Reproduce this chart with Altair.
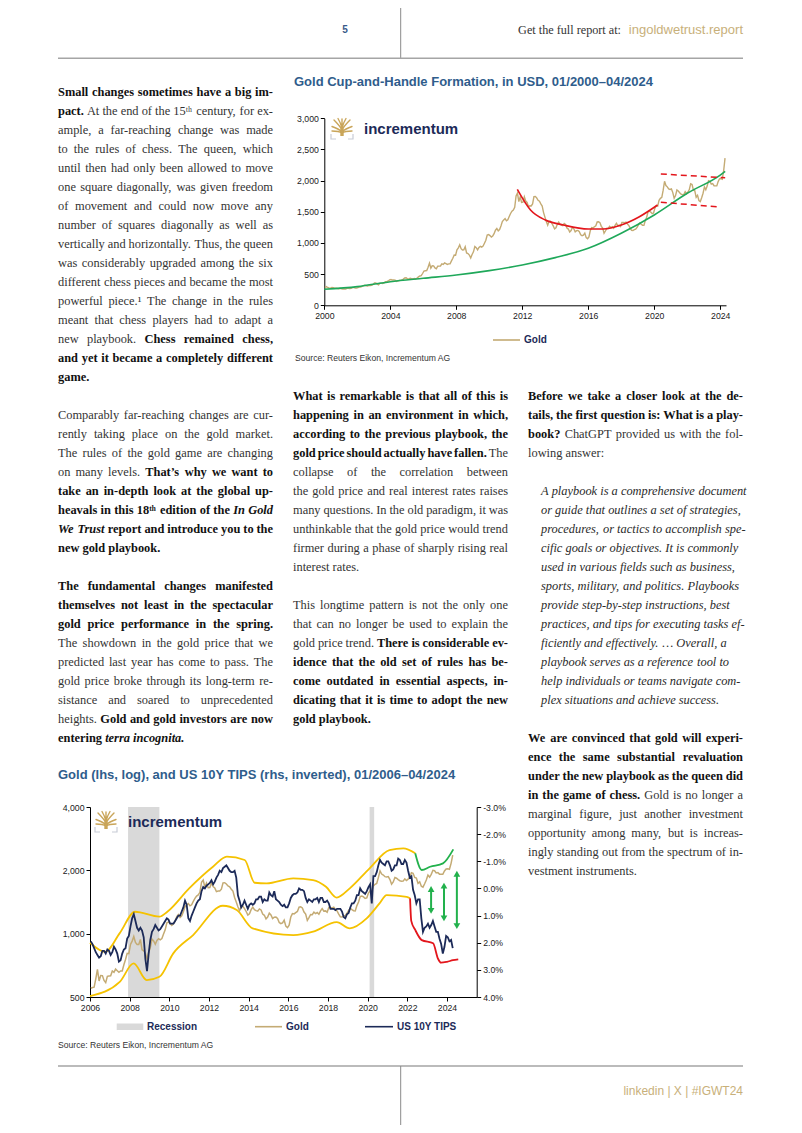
import base64
import altair as alt
import pandas as pd

W, H = 786, 1117


def PX(x):
    return x - 8


def PY(y):
    return y - 8


# ------------------------------------------------------------------ data
GOLD_MONTHLY = [
    284, 300, 286, 280, 275, 286, 282, 274, 273, 270, 266, 272,
    266, 262, 263, 261, 272, 271, 268, 273, 283, 283, 276, 276,
    282, 296, 294, 302, 314, 321, 314, 310, 319, 317, 319, 333,
    357, 359, 340, 328, 355, 356, 351, 360, 379, 379, 390, 407,
    414, 405, 406, 404, 384, 392, 398, 400, 406, 420, 439, 442,
    424, 423, 434, 429, 422, 430, 424, 438, 456, 470, 476, 510,
    550, 555, 557, 610, 676, 596, 633, 632, 599, 585, 627, 629,
    631, 665, 655, 679, 667, 655, 665, 665, 712, 754, 806, 803,
    889, 922, 970, 909, 888, 889, 939, 839, 829, 806, 760, 816,
    858, 943, 924, 890, 928, 946, 934, 949, 996, 1043, 1127, 1135,
    1118, 1095, 1113, 1148, 1205, 1232, 1193, 1215, 1271, 1343, 1370, 1391,
    1356, 1372, 1424, 1473, 1510, 1529, 1572, 1756, 1800, 1665, 1739, 1652,
    1656, 1742, 1674, 1650, 1585, 1596, 1594, 1626, 1744, 1747, 1722, 1685,
    1671, 1627, 1593, 1487, 1414, 1343, 1286, 1347, 1349, 1316, 1275, 1225,
    1244, 1300, 1336, 1299, 1287, 1279, 1311, 1296, 1239, 1223, 1176, 1200,
    1251, 1227, 1179, 1198, 1199, 1182, 1131, 1117, 1125, 1159, 1086, 1068,
    1097, 1200, 1246, 1242, 1260, 1276, 1337, 1341, 1326, 1267, 1238, 1157,
    1192, 1234, 1231, 1266, 1246, 1260, 1236, 1283, 1315, 1280, 1283, 1265,
    1331, 1331, 1325, 1335, 1303, 1282, 1238, 1202, 1199, 1215, 1221, 1250,
    1291, 1320, 1300, 1285, 1283, 1359, 1413, 1500, 1510, 1495, 1470, 1480,
    1560, 1597, 1592, 1683, 1716, 1732, 1847, 1990, 1921, 1900, 1866, 1858,
    1867, 1808, 1718, 1760, 1850, 1834, 1807, 1785, 1776, 1777, 1822, 1790,
    1817, 1856, 1948, 1937, 1849, 1837, 1733, 1764, 1681, 1664, 1726, 1798,
    1898, 1855, 1913, 2000, 1991, 1943, 1951, 1918, 1916, 1916, 1985, 2030,
    2034, 2023, 2159, 2360,
]
GOLD_START = 2000

TIPS_MONTHLY = [
    1.95, 2.05, 2.20, 2.35, 2.45, 2.55, 2.50, 2.30, 2.30, 2.40, 2.25, 2.30,
    2.45, 2.35, 2.15, 2.25, 2.40, 2.70, 2.65, 2.40, 2.25, 2.20, 1.85, 1.75,
    1.40, 1.10, 0.95, 1.20, 1.45, 1.55, 1.45, 1.55, 1.80, 2.60, 3.05, 2.40,
    1.90, 1.60, 1.50, 1.35, 1.45, 1.55, 1.50, 1.40, 1.30, 1.20, 1.10, 1.15,
    1.30, 1.30, 1.30, 1.20, 1.10, 1.00, 1.00, 0.85, 0.70, 0.45, 0.60, 1.10,
    1.20, 1.00, 0.85, 0.70, 0.55, 0.45, 0.40, 0.10, -0.05, 0.00, -0.10, -0.15,
    -0.20, -0.30, -0.15, -0.25, -0.40, -0.50, -0.65, -0.60, -0.75, -0.80, -0.85, -0.75,
    -0.65, -0.60, -0.60, -0.65, -0.40, 0.25, 0.45, 0.70, 0.60, 0.45, 0.60, 0.75,
    0.60, 0.55, 0.60, 0.55, 0.40, 0.40, 0.30, 0.30, 0.50, 0.40, 0.45, 0.45,
    0.15, 0.25, 0.30, 0.10, 0.40, 0.45, 0.50, 0.60, 0.65, 0.60, 0.70, 0.70,
    0.55, 0.35, 0.25, 0.20, 0.20, 0.15, 0.00, 0.05, 0.05, 0.10, 0.35, 0.50,
    0.40, 0.45, 0.50, 0.40, 0.40, 0.35, 0.50, 0.35, 0.35, 0.50, 0.50, 0.45,
    0.55, 0.75, 0.75, 0.75, 0.80, 0.75, 0.75, 0.75, 0.85, 1.05, 1.10, 0.95,
    0.90, 0.70, 0.55, 0.55, 0.45, 0.25, 0.25, 0.00, 0.10, 0.15, 0.20, 0.10,
    -0.05, -0.15, 0.55, -0.45, -0.45, -0.60, -0.85, -1.05, -0.95, -0.90, -0.85, -1.00,
    -1.00, -0.85, -0.65, -0.70, -0.85, -0.85, -1.10, -1.05, -0.90, -0.90, -1.05, -0.95,
    -0.65, -0.40, -0.45, 0.05, 0.25, 0.55, 0.40, 0.40, 1.10, 1.60, 1.45, 1.40,
    1.30, 1.45, 1.35, 1.20, 1.40, 1.60, 1.60, 1.85, 2.05, 2.40, 2.15, 1.75,
    1.80, 1.95, 1.90, 2.20,
]
TIPS_START = 2006

# chart 1 overlays
TREND_YEARS = [2000, 2002, 2004, 2006, 2008, 2010, 2012, 2014, 2016, 2018, 2020, 2022, 2024, 2024.3]
TREND_VALUES = [257, 300, 378, 433, 486, 556, 647, 765, 914, 1155, 1449, 1797, 2090, 2150]
CUP_YEARS = [2011.7, 2012.5, 2013.4, 2014.5, 2016.0, 2016.9, 2018.0, 2019.1, 2020.2]
CUP_VALUES = [1860, 1529, 1368, 1288, 1224, 1224, 1288, 1421, 1609]
HANDLE_ID = ["upper", "upper", "lower", "lower"]
HANDLE_YEARS = [2020.4, 2024.3, 2020.4, 2024.0]
HANDLE_VALUES = [2106, 2047, 1652, 1577]

# chart 2 overlays
BAND_UP_YEARS = [2006.0, 2006.76, 2007.5, 2008.27, 2009.5, 2009.9, 2011.0, 2012.2, 2012.9, 2013.8,
                 2014.3, 2014.9, 2016.25, 2017.25, 2017.9, 2018.44, 2019.1, 2020.1, 2021.1, 2021.8, 2022.4]
BAND_UP_VALUES = [905, 820, 1006, 1271, 1204, 1271, 1642, 2080, 2322, 2240,
                  1746, 1734, 1832, 1798, 1670, 1485, 1642, 2044, 2498, 2544, 2410]
GREEN_UP_YEARS = [2022.4, 2022.73, 2023.15, 2023.8, 2024.32]
GREEN_UP_VALUES = [2410, 2007, 2080, 2159, 2516]
BAND_LO_YEARS = [2006.0, 2007.5, 2008.2, 2008.86, 2009.5, 2010.2, 2011.2, 2012.7, 2013.4, 2014.2,
                 2016.25, 2017.25, 2018.44, 2019.1, 2019.95, 2020.6, 2020.96, 2021.97, 2022.14]
BAND_LO_VALUES = [505, 590, 722, 602, 624, 806, 985, 1357, 1295, 1060,
                  985, 1022, 1135, 1060, 1182, 1393, 1526, 1497, 1472]
RED_LO_YEARS = [2022.14, 2022.2, 2022.4, 2022.73, 2023.3, 2023.55, 2023.7, 2024.0, 2024.3, 2024.57]
RED_LO_VALUES = [1472, 1150, 1042, 932, 900, 760, 728, 735, 748, 755]
ARROW_YEARS = [2023.2, 2023.85, 2024.5]
ARROW_TOP = [0.02, -0.10, -0.54]
ARROW_BOTTOM = [0.83, 1.10, 1.39]
RECESSION_START = [2007.92, 2020.1]
RECESSION_END = [2009.5, 2020.33]

# axis ticks
C1_X_TICKS = [2000, 2004, 2008, 2012, 2016, 2020, 2024]
C1_Y_TICKS = [0, 500, 1000, 1500, 2000, 2500, 3000]
C2_X_TICKS = [2006, 2008, 2010, 2012, 2014, 2016, 2018, 2020, 2022, 2024]
C2_GOLD_TICKS = [500, 1000, 2000, 4000]
C2_TIPS_TICKS = [-3, -2, -1, 0, 1, 2, 3, 4]

# text
LEFT_P1 = [
    [("b", "Small changes sometimes have a big im-")],
    [("b", "pact."), ("r", "At the end of the 15ᵗʰ century, for ex-")],
    [("r", "ample, a far-reaching change was made")],
    [("r", "to the rules of chess. The queen, which")],
    [("r", "until then had only been allowed to move")],
    [("r", "one square diagonally, was given freedom")],
    [("r", "of movement and could now move any")],
    [("r", "number of squares diagonally as well as")],
    [("r", "vertically and horizontally. Thus, the queen")],
    [("r", "was considerably upgraded among the six")],
    [("r", "different chess pieces and became the most")],
    [("r", "powerful piece.¹ The change in the rules")],
    [("r", "meant that chess players had to adapt a")],
    [("r", "new playbook."), ("b", "Chess remained chess,")],
    [("b", "and yet it became a completely different")],
    [("b", "game.")],
]
LEFT_P2 = [
    [("r", "Comparably far-reaching changes are cur-")],
    [("r", "rently taking place on the gold market.")],
    [("r", "The rules of the gold game are changing")],
    [("r", "on many levels."), ("b", "That’s why we want to")],
    [("b", "take an in-depth look at the global up-")],
    [("b", "heavals in this 18ᵗʰ edition of the"), ("bi", "In Gold")],
    [("bi", "We Trust"), ("b", "report and introduce you to the")],
    [("b", "new gold playbook.")],
]
LEFT_P3 = [
    [("b", "The fundamental changes manifested")],
    [("b", "themselves not least in the spectacular")],
    [("b", "gold price performance in the spring.")],
    [("r", "The showdown in the gold price that we")],
    [("r", "predicted last year has come to pass. The")],
    [("r", "gold price broke through its long-term re-")],
    [("r", "sistance and soared to unprecedented")],
    [("r", "heights."), ("b", "Gold and gold investors are now")],
    [("b", "entering"), ("bi", "terra incognita.")],
]
MID_P1 = [
    [("b", "What is remarkable is that all of this is")],
    [("b", "happening in an environment in which,")],
    [("b", "according to the previous playbook, the")],
    [("b", "gold price should actually have fallen."), ("r", "The")],
    [("r", "collapse of the correlation between")],
    [("r", "the gold price and real interest rates raises")],
    [("r", "many questions. In the old paradigm, it was")],
    [("r", "unthinkable that the gold price would trend")],
    [("r", "firmer during a phase of sharply rising real")],
    [("r", "interest rates.")],
]
MID_P2 = [
    [("r", "This longtime pattern is not the only one")],
    [("r", "that can no longer be used to explain the")],
    [("r", "gold price trend."), ("b", "There is considerable ev-")],
    [("b", "idence that the old set of rules has be-")],
    [("b", "come outdated in essential aspects, in-")],
    [("b", "dicating that it is time to adopt the new")],
    [("b", "gold playbook.")],
]
RIGHT_P1 = [
    [("b", "Before we take a closer look at the de-")],
    [("b", "tails, the first question is: What is a play-")],
    [("b", "book?"), ("r", "ChatGPT provided us with the fol-")],
    [("r", "lowing answer:")],
]
QUOTE = [
    "A playbook is a comprehensive document",
    "or guide that outlines a set of strategies,",
    "procedures, or tactics to accomplish spe-",
    "cific goals or objectives. It is commonly",
    "used in various fields such as business,",
    "sports, military, and politics. Playbooks",
    "provide step-by-step instructions, best",
    "practices, and tips for executing tasks ef-",
    "ficiently and effectively. … Overall, a",
    "playbook serves as a reference tool to",
    "help individuals or teams navigate com-",
    "plex situations and achieve success.",
]
RIGHT_P3 = [
    [("b", "We are convinced that gold will experi-")],
    [("b", "ence the same substantial revaluation")],
    [("b", "under the new playbook as the queen did")],
    [("b", "in the game of chess."), ("r", "Gold is no longer a")],
    [("r", "marginal figure, just another investment")],
    [("r", "opportunity among many, but is increas-")],
    [("r", "ingly standing out from the spectrum of in-")],
    [("r", "vestment instruments.")],
]

TITLE1 = "Gold Cup-and-Handle Formation, in USD, 01/2000–04/2024"
TITLE2 = "Gold (lhs, log), and US 10Y TIPS (rhs, inverted), 01/2006–04/2024"
SOURCE = "Source: Reuters Eikon, Incrementum AG"

# ------------------------------------------------------------------ styles
GOLD = "#c4ab74"
NAVY = "#1c2a58"
TITLE_BLUE = "#2f5d8c"
YELLOW = "#f5c200"
RED = "#e3161c"
GREEN1 = "#1fa85a"
GREEN2 = "#22b14c"
INK = {"r": "#333333", "i": "#2b2b2b", "b": "#111111", "bi": "#111111"}
SANS = "Liberation Sans"
SERIF = "Liberation Serif"
FS = 12.4
LH = 19.0


def table(spec):
    d = {}
    for chars, w in spec:
        for c in chars:
            d[c] = w
    return d


W_R = table([(" ,.", 250), ("'’-()", 333), ("0123456789–", 500), (":;/", 278), ("?", 444),
             ("…", 1000), ("¹ᵗʰ", 300),
             ("a", 444), ("b", 500), ("c", 444), ("d", 500), ("e", 444), ("f", 333), ("g", 500),
             ("h", 500), ("i", 278), ("j", 278), ("k", 500), ("l", 278), ("m", 778), ("n", 500),
             ("o", 500), ("p", 500), ("q", 500), ("r", 333), ("s", 389), ("t", 278), ("u", 500),
             ("v", 500), ("w", 722), ("x", 500), ("y", 500), ("z", 444),
             ("ADGHKNOQUVXY", 722), ("BCR", 667), ("EL", 611), ("FPS", 556), ("I", 333), ("J", 389),
             ("M", 889), ("TZ", 611), ("W", 944)])
W_B = table([(" ,.", 250), ("'’-():;", 333), ("0123456789", 500), ("?", 500), ("ᵗʰ", 300),
             ("a", 500), ("b", 556), ("c", 444), ("d", 556), ("e", 444), ("f", 333), ("g", 500),
             ("h", 556), ("i", 278), ("j", 333), ("k", 556), ("l", 278), ("m", 833), ("n", 556),
             ("o", 500), ("p", 556), ("q", 556), ("r", 444), ("s", 389), ("t", 333), ("u", 556),
             ("v", 500), ("w", 722), ("x", 500), ("y", 500), ("z", 444),
             ("ACDNUVXY", 722), ("B", 667), ("EL", 667), ("FP", 611), ("GHKOQ", 778), ("I", 389),
             ("J", 500), ("M", 944), ("R", 722), ("S", 556), ("TZ", 667), ("W", 1000)])
W_I = table([(" ,.", 250), ("-:", 333), ("…", 889),
             ("a", 500), ("b", 500), ("c", 444), ("d", 500), ("e", 444), ("f", 278), ("g", 500),
             ("h", 500), ("i", 278), ("j", 278), ("k", 444), ("l", 278), ("m", 722), ("n", 500),
             ("o", 500), ("p", 500), ("q", 500), ("r", 389), ("s", 389), ("t", 278), ("u", 500),
             ("v", 444), ("w", 667), ("x", 444), ("y", 444), ("z", 389),
             ("A", 611), ("I", 333), ("O", 722), ("P", 611), ("S", 500), ("T", 556)])
W_BI = table([(" ,.", 250), ("a", 500), ("c", 444), ("e", 444), ("d", 500), ("G", 722), ("g", 500),
              ("I", 389), ("i", 278), ("l", 278), ("n", 556), ("o", 500), ("r", 389), ("s", 389),
              ("t", 278), ("u", 556), ("W", 889), ("T", 611)])
WIDTHS = {"r": W_R, "b": W_B, "i": W_I, "bi": W_BI}


def wwidth(word, st):
    tb = WIDTHS[st]
    return sum(tb.get(c, W_R.get(c, 500)) for c in word) * FS / 1000.0


def layout(lines, x0, x1, y0, justify=True):
    rows = []
    for li, segs in enumerate(lines):
        y = y0 + li * LH + 3.5
        words = []
        for st, txt in segs:
            for w in txt.split(" "):
                if w:
                    words.append((st, w))
        widths = [wwidth(w, st) for st, w in words]
        n = len(words)
        just = justify and li < len(lines) - 1 and n > 1
        gap = (x1 - x0 - sum(widths)) / (n - 1) if just else 0.25 * FS
        x = x0
        for k, ((st, w), wd) in enumerate(zip(words, widths)):
            if just and k == n - 1:
                rows.append(dict(t=w, x=PX(x1), y=PY(y), st=st, al="right"))
            else:
                rows.append(dict(t=w, x=PX(x), y=PY(y), st=st, al="left"))
            x += wd + gap
    return rows


COLS = {"L": (58, 273), "M": (293, 508), "R": (528, 743)}
rows = []
rows += layout(LEFT_P1, *COLS["L"], 92.5)
rows += layout(LEFT_P2, *COLS["L"], 415.5)
rows += layout(LEFT_P3, *COLS["L"], 586.5)
rows += layout(MID_P1, *COLS["M"], 396.7)
rows += layout(MID_P2, *COLS["M"], 605.7)
rows += layout(RIGHT_P1, *COLS["R"], 396.7)
rows += layout([[("i", q)] for q in QUOTE], 541, 743, 491.7, justify=False)
rows += layout(RIGHT_P3, *COLS["R"], 738.7)
words_df = pd.DataFrame(rows)

STYLE_DEF = {"r": ("normal", "normal"), "b": ("bold", "normal"),
             "i": ("normal", "italic"), "bi": ("bold", "italic")}

NOX = dict(scale=None, axis=None)


def body_layers():
    out = []
    for (st, al), sub in words_df.groupby(["st", "al"]):
        wt, fst = STYLE_DEF[st]
        out.append(
            alt.Chart(sub).mark_text(font=SERIF, fontSize=FS, fontWeight=wt, fontStyle=fst,
                                     align=al, baseline="alphabetic", color=INK[st])
            .encode(x=alt.X("x:Q", **NOX), y=alt.Y("y:Q", **NOX), text="t:N")
        )
    return out


def label(t, x, y, size, color, font=SANS, weight="normal", align="left", baseline="middle", style="normal"):
    return alt.Chart(alt.Data(values=[{"t": t, "x": PX(x), "y": PY(y)}])).mark_text(
        font=font, fontSize=size, color=color, fontWeight=weight, align=align,
        baseline=baseline, fontStyle=style
    ).encode(x=alt.X("x:Q", **NOX), y=alt.Y("y:Q", **NOX), text="t:N")


def prule(x, y, x2, y2, color, width):
    return alt.Chart(alt.Data(values=[{"x": PX(x), "y": PY(y), "x2": PX(x2), "y2": PY(y2)}])).mark_rule(
        color=color, strokeWidth=width
    ).encode(x=alt.X("x:Q", **NOX), y=alt.Y("y:Q", **NOX), x2="x2:Q", y2="y2:Q")


def prect(x, y, x2, y2, color):
    return alt.Chart(alt.Data(values=[{"x": PX(x), "y": PY(y), "x2": PX(x2), "y2": PY(y2)}])).mark_rect(
        color=color
    ).encode(x=alt.X("x:Q", **NOX), y=alt.Y("y:Q", **NOX), x2="x2:Q", y2="y2:Q")


LOGO_SVG = """<svg xmlns="http://www.w3.org/2000/svg" width="48" height="46" viewBox="0 0 24 23">
<g stroke="#c9a55a" stroke-width="1.4" stroke-linecap="round" fill="none">
<path d="M12 18V2 M12 13C10 9 7 6 4 3 M12 13C14 9 17 6 20 3 M12 11C11 7 9.5 4 8 1.5 M12 11C13 7 14.5 4 16 1.5 M12 15C9 12 5 10.5 2 9.5 M12 15C15 12 19 10.5 22 9.5 M12 16C9 14 5 14 2 14 M12 16C15 14 19 14 22 14"/>
</g>
<path d="M10.3 11.5h3.4v7.5h-3.4z" fill="#c9a55a"/>
<path d="M1 17v5h5 M23 17v5h-5" stroke="#c8ccd6" stroke-width="1.2" fill="none"/>
</svg>"""
LOGO_URI = "data:image/svg+xml;base64," + base64.b64encode(LOGO_SVG.encode()).decode()


def logo(x, y):
    icon = alt.Chart(alt.Data(values=[{"x": PX(x), "y": PY(y), "u": LOGO_URI}])).mark_image(
        width=24, height=23, align="left", baseline="top"
    ).encode(x=alt.X("x:Q", **NOX), y=alt.Y("y:Q", **NOX), url="u:N")
    word = label("incrementum", x + 34, y + 12, 15, NAVY, weight="bold")
    return [icon, word]


# ------------------------------------------------------------------ chart 1
g1 = pd.DataFrame({"year": [GOLD_START + (i + 0.5) / 12 for i in range(len(GOLD_MONTHLY))],
                   "v": GOLD_MONTHLY})
X1 = alt.Scale(domain=[2000, 2024.35], range=[PX(324.3), PX(726)], nice=False, zero=False)
Y1 = alt.Scale(domain=[0, 3000], range=[PY(305.3), PY(118.3)], nice=False, zero=False)
ax_x1 = alt.Axis(orient="bottom", offset=PY(305.3) - H, values=C1_X_TICKS, format="d", title=None)
ax_y1 = alt.Axis(orient="left", offset=-PX(324.3), values=C1_Y_TICKS, format=",.0f", title=None)

c1_gold = alt.Chart(g1).mark_line(color=GOLD, strokeWidth=1.4).encode(
    x=alt.X("year:Q", scale=X1, axis=ax_x1), y=alt.Y("v:Q", scale=Y1, axis=ax_y1))
c1_trend = alt.Chart(pd.DataFrame({"year": TREND_YEARS, "v": TREND_VALUES})).mark_line(
    color=GREEN1, strokeWidth=1.6, interpolate="monotone").encode(
    x=alt.X("year:Q", scale=X1, axis=None), y=alt.Y("v:Q", scale=Y1, axis=None))
c1_cup = alt.Chart(pd.DataFrame({"year": CUP_YEARS, "v": CUP_VALUES})).mark_line(
    color=RED, strokeWidth=1.6, interpolate="monotone").encode(
    x=alt.X("year:Q", scale=X1, axis=None), y=alt.Y("v:Q", scale=Y1, axis=None))
c1_handle = alt.Chart(pd.DataFrame({"id": HANDLE_ID, "year": HANDLE_YEARS, "v": HANDLE_VALUES})).mark_line(
    color=RED, strokeWidth=1.5, strokeDash=[6, 4]).encode(
    x=alt.X("year:Q", scale=X1, axis=None), y=alt.Y("v:Q", scale=Y1, axis=None), detail="id:N")
chart1_layers = [c1_gold, c1_trend, c1_cup, c1_handle]

# ------------------------------------------------------------------ chart 2
g2 = g1[g1["year"] >= TIPS_START]
t2 = pd.DataFrame({"year": [TIPS_START + (i + 0.5) / 12 for i in range(len(TIPS_MONTHLY))],
                   "v": TIPS_MONTHLY})
X2 = alt.Scale(domain=[2006, 2025.5], range=[PX(90), PX(476.7)], nice=False, zero=False)
Y2G = alt.Scale(type="log", domain=[500, 4000], range=[PY(997), PY(807)], nice=False)
Y2T = alt.Scale(domain=[-3, 4], range=[PY(807), PY(997)], nice=False, zero=False)
ax_x2 = alt.Axis(orient="bottom", offset=PY(997) - H, values=C2_X_TICKS, format="d", title=None)
ax_y2g = alt.Axis(orient="left", offset=-PX(90), values=C2_GOLD_TICKS, format=",.0f", title=None)
ax_y2t = alt.Axis(orient="right", offset=PX(476.7) - W, values=C2_TIPS_TICKS, title=None,
                  labelExpr="(datum.value < 0 ? '-' : '') + format(abs(datum.value), '.1f') + '%'")

c2_rec = alt.Chart(pd.DataFrame({"s": RECESSION_START, "e": RECESSION_END})).mark_rect(color="#d9d9d9").encode(
    x=alt.X("s:Q", scale=X2, axis=None), x2="e:Q", y=alt.value(PY(807)), y2=alt.value(PY(997)))


def gline(years, vals, color, width):
    return alt.Chart(pd.DataFrame({"year": years, "v": vals})).mark_line(
        color=color, strokeWidth=width, interpolate="monotone").encode(
        x=alt.X("year:Q", scale=X2, axis=None), y=alt.Y("v:Q", scale=Y2G, axis=None))


c2_up = gline(BAND_UP_YEARS, BAND_UP_VALUES, YELLOW, 1.8)
c2_lo = gline(BAND_LO_YEARS, BAND_LO_VALUES, YELLOW, 1.8)
c2_gu = gline(GREEN_UP_YEARS, GREEN_UP_VALUES, GREEN2, 1.8)
c2_rl = gline(RED_LO_YEARS, RED_LO_VALUES, RED, 1.8)
c2_gold = alt.Chart(g2).mark_line(color=GOLD, strokeWidth=1.5).encode(
    x=alt.X("year:Q", scale=X2, axis=ax_x2), y=alt.Y("v:Q", scale=Y2G, axis=ax_y2g))
c2_tips = alt.Chart(t2).mark_line(color=NAVY, strokeWidth=1.8).encode(
    x=alt.X("year:Q", scale=X2, axis=None), y=alt.Y("v:Q", scale=Y2T, axis=ax_y2t))
arrows = pd.DataFrame({"year": ARROW_YEARS, "top": ARROW_TOP, "bot": ARROW_BOTTOM})
c2_arr = alt.Chart(arrows).mark_rule(color=GREEN2, strokeWidth=2).encode(
    x=alt.X("year:Q", scale=X2, axis=None), y=alt.Y("top:Q", scale=Y2T, axis=None), y2="bot:Q")
c2_head_up = alt.Chart(arrows).mark_point(shape="triangle-up", filled=True, color=GREEN2, size=45, opacity=1).encode(
    x=alt.X("year:Q", scale=X2, axis=None), y=alt.Y("top:Q", scale=Y2T, axis=None))
c2_head_dn = alt.Chart(arrows).mark_point(shape="triangle-down", filled=True, color=GREEN2, size=45, opacity=1).encode(
    x=alt.X("year:Q", scale=X2, axis=None), y=alt.Y("bot:Q", scale=Y2T, axis=None))

chart2_layers = [c2_rec, c2_up, c2_lo, c2_gu, c2_rl, c2_gold, c2_tips, c2_arr, c2_head_up, c2_head_dn]

# ------------------------------------------------------------------ page furniture
furniture = [
    prule(400.7, 0, 400.7, 58.3, "#8a8a8a", 1),
    prule(58, 58.3, 743, 58.3, "#a5a5a5", 1.6),
    prule(58, 1066, 743, 1066, "#a5a5a5", 1.6),
    prule(400.7, 1066, 400.7, 1133, "#8a8a8a", 1),
    label("5", 345, 30, 10, "#3b5b8a", weight="bold", align="center"),
    label("Get the full report at:", 621, 30, 12.2, "#333333", font=SERIF, align="right"),
    label("ingoldwetrust.report", 743, 30, 13, "#c8b07a", align="right"),
    label("linkedin | X | #IGWT24", 743, 1091, 12, "#c8b07a", align="right"),
    # chart 1 annotations
    label(TITLE1, 294, 82, 13, TITLE_BLUE, weight="bold"),
    prule(493, 340, 520, 340, GOLD, 1.6),
    label("Gold", 524, 340, 10, NAVY, weight="bold"),
    label(SOURCE, 295, 358, 8.6, "#333333"),
    # chart 2 annotations
    label(TITLE2, 58, 775, 13, TITLE_BLUE, weight="bold"),
    prect(116.7, 1023.5, 143.3, 1030, "#d9d9d9"),
    label("Recession", 147, 1026.7, 10, NAVY, weight="bold"),
    prule(255, 1026.7, 282, 1026.7, GOLD, 1.6),
    label("Gold", 286, 1026.7, 10, NAVY, weight="bold"),
    prule(365, 1026.7, 393, 1026.7, NAVY, 1.6),
    label("US 10Y TIPS", 397, 1026.7, 10, NAVY, weight="bold"),
    label(SOURCE, 58, 1045, 8.6, "#333333"),
]
furniture += logo(330, 117)
furniture += logo(94, 810)

chart = alt.layer(*chart1_layers, *chart2_layers, *furniture, *body_layers()).resolve_scale(
    x="independent", y="independent"
).resolve_axis(
    x="independent", y="independent"
).properties(
    width=W, height=H, autosize=alt.AutoSizeParams(type="none"), padding=0, background="white"
).configure_view(stroke=None).configure_axis(
    labelFont=SANS, labelFontSize=8.7, labelColor="#1a1a1a", domainColor="#000000",
    tickColor="#000000", domainWidth=1, tickWidth=1, tickSize=4, labelPadding=2,
    grid=False, labelFlush=False, labelOverlap=False
)

chart.save("out.html", embed_options={"renderer": "svg", "actions": False})
